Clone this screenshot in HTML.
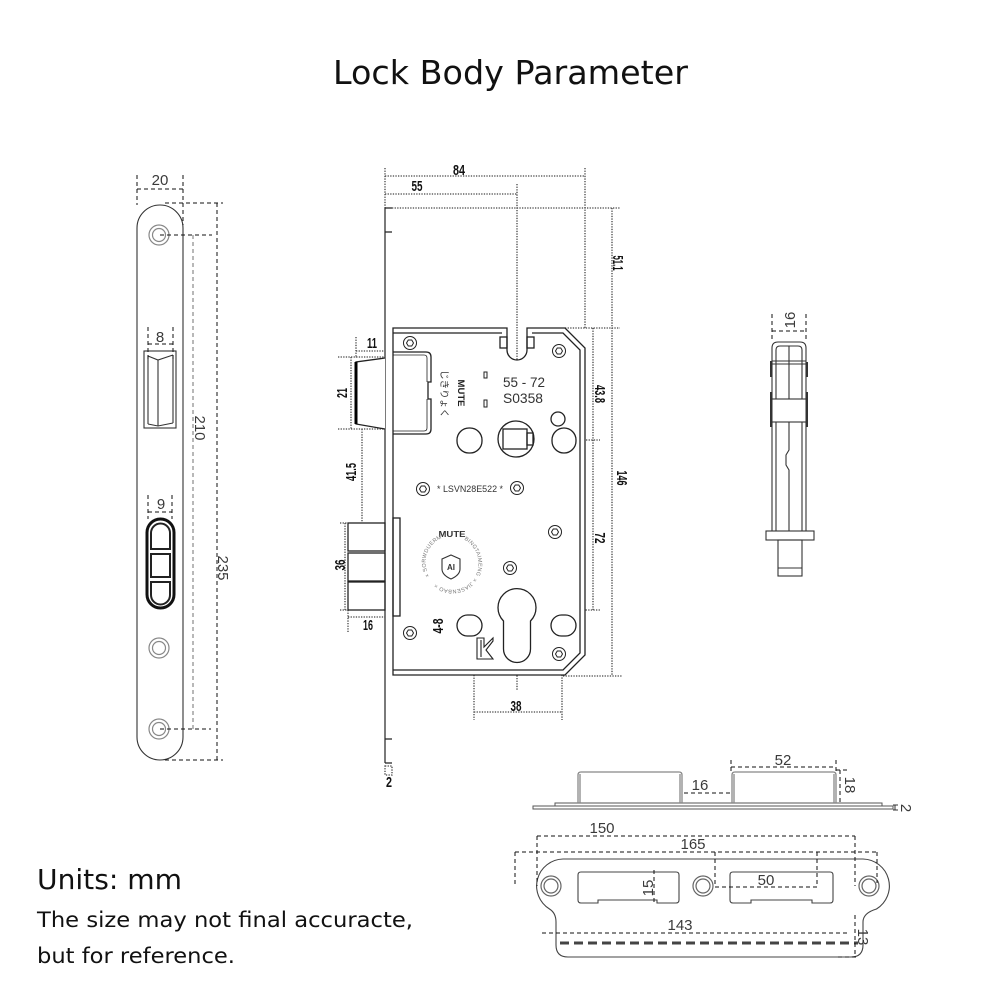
<!DOCTYPE html>
<html><head><meta charset="utf-8">
<style>
html,body{margin:0;padding:0;background:#fff;}
svg{display:block;}
text{font-family:"Liberation Sans","Noto Sans CJK JP",sans-serif;}
.b{font-weight:bold;font-size:15px;fill:#111;}
.t{font-size:15px;fill:#3a3a3a;}
.d{font-family:"DejaVu Sans","Liberation Sans",sans-serif;fill:#111;}
</style></head><body>
<svg width="1000" height="1000" viewBox="0 0 1000 1000" xmlns="http://www.w3.org/2000/svg">
<rect width="1000" height="1000" fill="#fff"/>

<!-- Title & notes -->
<text class="d" x="333" y="84" font-size="33" textLength="355" lengthAdjust="spacingAndGlyphs">Lock Body Parameter</text>
<text class="d" x="37" y="889" font-size="28" textLength="145" lengthAdjust="spacingAndGlyphs">Units: mm</text>
<text class="d" x="37" y="927" font-size="21" textLength="376" lengthAdjust="spacingAndGlyphs">The size may not final accuracte,</text>
<text class="d" x="37" y="963" font-size="21" textLength="198" lengthAdjust="spacingAndGlyphs">but for reference.</text>

<!-- ================= LEFT FACEPLATE VIEW ================= -->
<g fill="none" stroke="#333" stroke-width="1.1">
  <path d="M137,228 A23,23 0 0 1 183,228 L183,737 A23,23 0 0 1 137,737 Z"/>
  <!-- latch window -->
  <rect x="144" y="351" width="32" height="77"/>
  <path d="M148,356 L158,360 L173,355 M148,356 V424 M173,355 V423 M158,360 V426 M148,424 L158,426 L173,423"/>
</g>
<g fill="none" stroke="#888" stroke-width="1.2">
  <circle cx="159" cy="235" r="10"/><circle cx="159" cy="235" r="6.5"/>
  <circle cx="159" cy="648" r="10"/><circle cx="159" cy="648" r="6.5"/>
  <circle cx="159" cy="729" r="10"/><circle cx="159" cy="729" r="6.5"/>
</g>
<!-- three-part bolt -->
<rect x="147" y="519" width="27" height="89" rx="13.5" fill="none" stroke="#111" stroke-width="3"/>
<g fill="none" stroke="#222" stroke-width="2">
  <path d="M151,549 V533 A9.5,9.5 0 0 1 170,533 V549 Z"/>
  <rect x="151" y="554" width="19" height="23"/>
  <path d="M151,582 V595 A9.5,9.5 0 0 0 170,595 V582 Z"/>
</g>
<!-- left dims -->
<g fill="none" stroke="#111" stroke-width="1" stroke-dasharray="4 3">
  <path d="M137,175 V205 M183,175 V225 M137,189 H183"/>
  <path d="M148,327 V362 M173,327 V362 M148,344 H173"/>
  <path d="M148,495 V519 M172,495 V519 M148,512 H172"/>
  <path d="M160,235 H212 M160,729 H211"/>
  <path d="M165,203 H223 M165,760 H223 M217,203 V760"/>
</g>
<path d="M193,235 V729" fill="none" stroke="#888" stroke-width="1.2" stroke-dasharray="4 3"/>
<text class="t" x="160" y="185" text-anchor="middle">20</text>
<text class="t" x="160" y="342" text-anchor="middle">8</text>
<text class="t" x="161" y="509" text-anchor="middle">9</text>
<text class="t" transform="translate(195,428) rotate(90)" text-anchor="middle">210</text>
<text class="t" transform="translate(218,568) rotate(90)" text-anchor="middle">235</text>

<!-- ================= MAIN LOCK BODY ================= -->
<!-- dotted dimension lines -->
<g fill="none" stroke="#444" stroke-width="1.3" stroke-dasharray="1.3 1.3">
  <path d="M385,168 V208 M385,176 H585 M585,168 V328"/>
  <path d="M385,194 H517 M517,184 V690"/>
  <path d="M392,208 H620 M612,208 V676"/>
  <path d="M565,328 H620 M593,328 V610"/>
  <path d="M443,440 H600 M492,610 H600 M563,676 H622"/>
  <path d="M474,428 V720 M562,420 V720 M474,712 H562"/>
  <path d="M356,337 V358 M356,351 H385"/>
  <path d="M338,357 H385 M338,429 H385 M351,357 V429"/>
  <path d="M362,429 V523"/>
  <path d="M340,523 H348 M340,610 H348 M345,523 V610"/>
  <path d="M348,617 H385 M348,610 V632"/>
  <path d="M445,616 H458 M445,637 H458 M453,616 V637"/>
  <path d="M385,766 H392 V775 H385 Z"/>
</g>
<!-- faceplate line -->
<g fill="none" stroke="#222" stroke-width="1.2">
  <path d="M385,208 V763 M385,208 H392 M385,232 H392 M385,739 H392 M385,763 H392"/>
</g>
<!-- body -->
<g fill="none" stroke="#222" stroke-width="1.3">
  <path d="M393,328 H507 V350 A10,10 0 0 0 527,350 V328 H565 L585,348 V655 L565,675 H393 Z" fill="#fff"/>
  <path d="M393,333 H502 M532,333 H563 L580,350 V653 L563,670 H393"/>
  <rect x="500" y="337" width="7" height="11"/>
  <rect x="527" y="337" width="7" height="11"/>
  <!-- latch housing -->
  <path d="M393,352 H426 Q431,352 431,357 V382 H428 V399 H431 V429 Q431,434 426,434 H393"/>
  <path d="M393,355 H424 Q427,355 427,358 V382 M427,399 V428 Q427,431 424,431 H393" stroke-width="0.8"/>
  <!-- latch bolt -->
  <path d="M385,358 L356,362 V424 L385,429" fill="#fff"/>
  <!-- deadbolt -->
  <rect x="348" y="523" width="37" height="28"/>
  <rect x="348" y="553" width="37" height="28"/>
  <rect x="348" y="582" width="37" height="28"/>
  <rect x="393" y="518" width="7" height="98"/>
  <!-- hub -->
  <circle cx="516" cy="439" r="18"/>
  <rect x="503" y="429" width="24" height="20"/>
  <rect x="527" y="433" width="6" height="12"/>
  <!-- slots -->
  <rect x="457" y="428" width="25" height="25" rx="12"/>
  <rect x="552" y="428" width="24" height="25" rx="12"/>
  <circle cx="558" cy="419" r="7"/>
  <rect x="457" y="615" width="25" height="21" rx="10.5"/>
  <rect x="551" y="615" width="25" height="21" rx="10.5"/>
  <!-- keyhole -->
  <path d="M503.5,621 A19,19 0 1 1 530.5,621 L530.5,649 A13.5,13.5 0 0 1 503.5,649 Z"/>
  <!-- K shape -->
  <path d="M477,638 H484 V647 L493,638 V641 L486,650 L493,659 H477 Z M481,640 V657" stroke-width="1.1"/>
  <!-- small marks -->
  <rect x="484" y="372" width="3" height="6" stroke-width="1"/>
  <rect x="484" y="400" width="3" height="7" stroke-width="1"/>
</g>
<path d="M356,362 V424" stroke="#000" stroke-width="3"/>
<!-- screws -->
<g fill="none" stroke="#222" stroke-width="1">
  <g transform="translate(410,343)"><circle r="6.5"/><polygon points="3.5,0 1.75,3 -1.75,3 -3.5,0 -1.75,-3 1.75,-3"/></g>
  <g transform="translate(559,351)"><circle r="6.5"/><polygon points="3.5,0 1.75,3 -1.75,3 -3.5,0 -1.75,-3 1.75,-3"/></g>
  <g transform="translate(423,489)"><circle r="6.5"/><polygon points="3.5,0 1.75,3 -1.75,3 -3.5,0 -1.75,-3 1.75,-3"/></g>
  <g transform="translate(517,488)"><circle r="6.5"/><polygon points="3.5,0 1.75,3 -1.75,3 -3.5,0 -1.75,-3 1.75,-3"/></g>
  <g transform="translate(555,532)"><circle r="6.5"/><polygon points="3.5,0 1.75,3 -1.75,3 -3.5,0 -1.75,-3 1.75,-3"/></g>
  <g transform="translate(510,568)"><circle r="6.5"/><polygon points="3.5,0 1.75,3 -1.75,3 -3.5,0 -1.75,-3 1.75,-3"/></g>
  <g transform="translate(410,633)"><circle r="6.5"/><polygon points="3.5,0 1.75,3 -1.75,3 -3.5,0 -1.75,-3 1.75,-3"/></g>
  <g transform="translate(559,654)"><circle r="6.5"/><polygon points="3.5,0 1.75,3 -1.75,3 -3.5,0 -1.75,-3 1.75,-3"/></g>
</g>
<!-- body texts -->
<text x="503" y="387" font-size="14" fill="#333" textLength="42" lengthAdjust="spacingAndGlyphs">55 - 72</text>
<text x="503" y="403" font-size="14" fill="#333" textLength="40" lengthAdjust="spacingAndGlyphs">S0358</text>
<text transform="translate(458,393) rotate(90)" text-anchor="middle" font-size="9" font-weight="bold" fill="#222" textLength="27" lengthAdjust="spacingAndGlyphs">MUTE</text>
<text transform="translate(441,394) rotate(90)" text-anchor="middle" font-size="9.5" fill="#333" style="font-family:'Noto Sans CJK JP',sans-serif" textLength="48" lengthAdjust="spacingAndGlyphs">じきりょく</text>
<text x="437" y="492" font-size="9" fill="#333" textLength="66" lengthAdjust="spacingAndGlyphs">* LSVN28E522 *</text>
<!-- MUTE AI logo -->
<text x="452" y="537" text-anchor="middle" font-size="8.5" font-weight="bold" fill="#333" textLength="27" lengthAdjust="spacingAndGlyphs">MUTE</text>
<path d="M451,555 L460,559 L460,569 Q460,575 451,579 Q442,575 442,569 L442,559 Z" fill="none" stroke="#333" stroke-width="1.1"/>
<text x="451" y="570" text-anchor="middle" font-size="8" font-weight="bold" fill="#333">AI</text>
<defs>
  <path id="ring" d="M429.5,576 A26,26 0 1 1 474.5,550 A26,26 0 1 1 429.5,576"/>
</defs>
<text font-size="5.5" fill="#777" letter-spacing="0.3">
  <textPath href="#ring" startOffset="0">× SORWDUERM</textPath>
</text>
<text font-size="5.5" fill="#777" letter-spacing="0.3">
  <textPath href="#ring" startOffset="68">BINGTAIMENG</textPath>
</text>
<text font-size="5.5" fill="#777" letter-spacing="0.3">
  <textPath href="#ring" startOffset="112">× JIASENBAO ×</textPath>
</text>

<!-- bold dimension labels -->
<text class="b" x="459" y="175" text-anchor="middle" textLength="12" lengthAdjust="spacingAndGlyphs">84</text>
<text class="b" x="417" y="191" text-anchor="middle" textLength="11" lengthAdjust="spacingAndGlyphs">55</text>
<text class="b" x="372" y="348" text-anchor="middle" textLength="10" lengthAdjust="spacingAndGlyphs">11</text>
<text class="b" x="368" y="630" text-anchor="middle" textLength="10" lengthAdjust="spacingAndGlyphs">16</text>
<text class="b" x="516" y="711" text-anchor="middle" textLength="11" lengthAdjust="spacingAndGlyphs">38</text>
<text class="b" x="389" y="787" text-anchor="middle" textLength="6" lengthAdjust="spacingAndGlyphs">2</text>
<text class="b" transform="translate(613,263) rotate(90)" text-anchor="middle" textLength="15" lengthAdjust="spacingAndGlyphs">51.1</text>
<text class="b" transform="translate(595,394) rotate(90)" text-anchor="middle" textLength="18" lengthAdjust="spacingAndGlyphs">43.8</text>
<text class="b" transform="translate(595,538) rotate(90)" text-anchor="middle" textLength="11" lengthAdjust="spacingAndGlyphs">72</text>
<text class="b" transform="translate(617,478) rotate(90)" text-anchor="middle" textLength="15" lengthAdjust="spacingAndGlyphs">146</text>
<text class="b" transform="translate(347,393) rotate(-90)" text-anchor="middle" textLength="10" lengthAdjust="spacingAndGlyphs">21</text>
<text class="b" transform="translate(356,472) rotate(-90)" text-anchor="middle" textLength="18" lengthAdjust="spacingAndGlyphs">41.5</text>
<text class="b" transform="translate(345,565) rotate(-90)" text-anchor="middle" textLength="11" lengthAdjust="spacingAndGlyphs">36</text>
<text class="b" transform="translate(443,626) rotate(-90)" text-anchor="middle" textLength="15" lengthAdjust="spacingAndGlyphs">4-8</text>

<!-- ================= SIDE VIEW (right) ================= -->
<g fill="none" stroke="#333" stroke-width="1.1">
  <path d="M772,531 V348 Q772,342 778,342 H800 Q806,342 806,348 V531"/>
  <path d="M776,531 V350 Q776,346 780,346 H798 Q802,346 802,350 V531"/>
  <path d="M772,361 H806 M772,364 H806"/>
  <rect x="771" y="399" width="36" height="23" fill="#fff"/>
  <path d="M789,346 V399 M789,422 V450 L786,455 V465 L789,470 V531"/>
  <rect x="766" y="531" width="48" height="9" fill="#fff"/>
  <rect x="778" y="540" width="24" height="36"/>
  <path d="M778,568 H802"/>
</g>
<g fill="#333">
  <rect x="770" y="361" width="2.5" height="16"/>
  <rect x="770" y="392" width="2.5" height="35"/>
  <rect x="805.5" y="362" width="2.5" height="15"/>
  <rect x="805.5" y="392" width="2.5" height="35"/>
</g>
<g fill="none" stroke="#111" stroke-width="1" stroke-dasharray="4 3">
  <path d="M772,314 V342 M806,314 V342 M772,331 H806"/>
</g>
<text class="t" transform="translate(795,320) rotate(-90)" text-anchor="middle">16</text>

<!-- ================= STRIKE SIDE VIEW ================= -->
<g fill="none" stroke="#555" stroke-width="1">
  <rect x="533" y="806" width="360" height="3"/>
  <rect x="555" y="803" width="327" height="3"/>
</g>
<g fill="none" stroke="#888" stroke-width="1.3">
  <path d="M578,803 V775 Q578,772 581,772 H679 Q682,772 682,775 V803 M580,803 V774 M680,803 V774"/>
  <path d="M732,803 V775 Q732,772 735,772 H833 Q836,772 836,775 V803 M734,803 V774 M834,803 V774"/>
</g>
<g fill="none" stroke="#111" stroke-width="1" stroke-dasharray="4 3">
  <path d="M684,793 H730"/>
  <path d="M731,760 V772 M836,760 V772 M731,767 H836"/>
  <path d="M836,770 H848 M840,770 V803"/>
</g>
<path d="M893,805 H898 M893,810 H898 M895,805 V810" stroke="#333" stroke-width="1" fill="none"/>
<text class="t" x="700" y="790" text-anchor="middle">16</text>
<text class="t" x="783" y="765" text-anchor="middle">52</text>
<text class="t" transform="translate(845,785) rotate(90)" text-anchor="middle">18</text>
<text class="t" transform="translate(901,808) rotate(90)" text-anchor="middle" font-size="12">2</text>

<!-- ================= STRIKE FRONT VIEW ================= -->
<path d="M563,859 H863 A27,27 0 0 1 876.5,909 Q863,913 863,922 V945 Q863,957 851,957 H568 Q556,957 556,945 V922 Q556,913 549.5,909 A27,27 0 0 1 563,859 Z" fill="none" stroke="#444" stroke-width="1.1"/>
<g fill="none" stroke="#666" stroke-width="1.2">
  <circle cx="551" cy="886" r="10"/><circle cx="551" cy="886" r="7"/>
  <circle cx="703" cy="886" r="10"/><circle cx="703" cy="886" r="7"/>
  <circle cx="869" cy="886" r="10"/><circle cx="869" cy="886" r="7"/>
</g>
<g fill="none" stroke="#444" stroke-width="1.1">
  <path d="M578,875 Q578,872 581,872 H676 Q679,872 679,875 V900 Q679,903 676,903 H657 V900 H598 V903 H581 Q578,903 578,900 Z"/>
  <path d="M730,875 Q730,872 733,872 H830 Q833,872 833,875 V900 Q833,903 830,903 H812 V900 H751 V903 H733 Q730,903 730,900 Z"/>
</g>
<path d="M560,943 H858" stroke="#444" stroke-width="3" stroke-dasharray="9 5" fill="none"/>
<g fill="none" stroke="#111" stroke-width="1" stroke-dasharray="4 3">
  <path d="M537,836 H855 M537,836 V886 M855,836 V886"/>
  <path d="M515,852 H877 M515,852 V886 M877,852 V883"/>
  <path d="M654,870 V903"/>
  <path d="M715,852 V887 M817,852 V887 M715,887 H817"/>
  <path d="M542,933 H847"/>
  <path d="M855,915 V957 M838,957 H858"/>
</g>
<text class="t" x="602" y="833" text-anchor="middle">150</text>
<text class="t" x="693" y="849" text-anchor="middle">165</text>
<text class="t" transform="translate(653,888) rotate(-90)" text-anchor="middle">15</text>
<text class="t" x="766" y="885" text-anchor="middle">50</text>
<text class="t" x="680" y="930" text-anchor="middle">143</text>
<text class="t" transform="translate(858,937) rotate(90)" text-anchor="middle">13</text>
</svg>
</body></html>
